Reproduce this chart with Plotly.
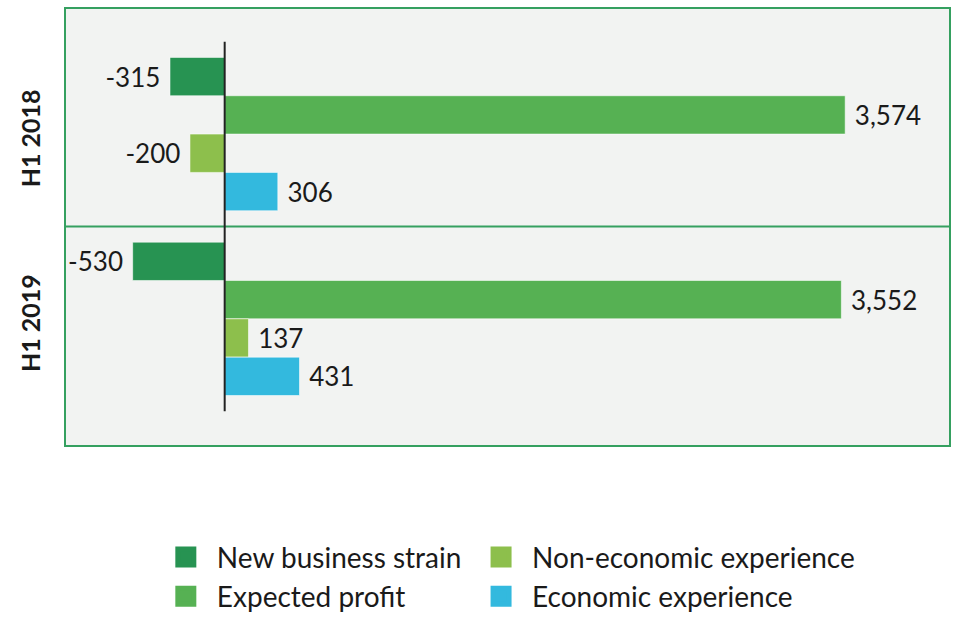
import plotly.graph_objects as go

categories = ["H1 2018", "H1 2019"]
series_names = ["New business strain", "Expected profit",
                "Non-economic experience", "Economic experience"]
new_business_strain = [-315, -530]
expected_profit = [3574, 3552]
non_economic_experience = [-200, 137]
economic_experience = [306, 431]

series_values = [new_business_strain, expected_profit,
                 non_economic_experience, economic_experience]
colors = ["#279352", "#56B153", "#8DBF4C", "#33B9DE"]

FONT = "Lato"
NBSP = "\u00a0"


def label(v):
    s = f"{v:,}"
    return s + NBSP if v < 0 else NBSP + s


fig = go.Figure()
for name, vals, col in zip(series_names, series_values, colors):
    fig.add_trace(go.Bar(
        y=categories, x=vals, orientation="h", name=name,
        marker=dict(color=col, line=dict(color="rgba(255,255,255,0.55)", width=1)),
        text=[label(v) for v in vals], textposition="outside",
        textfont=dict(family=FONT, size=26, color="#1a1a1a"),
        constraintext="none", cliponaxis=False, showlegend=False,
        hoverinfo="skip",
    ))

# legend entries (square swatches)
for i in [0, 1, 2, 3]:
    fig.add_trace(go.Scatter(
        x=[None], y=[None], mode="markers", name=series_names[i],
        marker=dict(symbol="square", size=16, color=colors[i],
                    line=dict(color=colors[i], width=5)),
        legend="legend" if i in (0, 1) else "legend2",
        showlegend=True,
    ))

border = "#35A060"
legend_common = dict(y=-0.2, xanchor="left", yanchor="top", orientation="v",
                     bgcolor="rgba(0,0,0,0)", tracegroupgap=0, itemwidth=52,
                     borderwidth=0,
                     font=dict(family=FONT, size=28, color="#1a1a1a"))
fig.update_layout(
    width=954, height=624,
    margin=dict(l=66, r=3, t=9, b=176),
    paper_bgcolor="white",
    plot_bgcolor="#F2F3F2",
    barmode="group",
    bargap=0.17,
    bargroupgap=0,
    font=dict(family=FONT, color="#1a1a1a"),
    xaxis=dict(range=[-914, 4172], showticklabels=False, showgrid=False,
               zeroline=False, ticks="", showline=True, mirror=True,
               linecolor=border, linewidth=2),
    yaxis=dict(type="category", range=[1.683, -0.677], showgrid=False,
               zeroline=False, ticks="", showline=True, mirror=True,
               linecolor=border, linewidth=2, tickangle=-90,
               ticklabelstandoff=14, ticklabelshift=-8,
               tickfont=dict(family=FONT, size=25, color="#1a1a1a", weight="bold")),
    legend=dict(x=0.1006, **legend_common),
    legend2=dict(x=0.4576, **legend_common),
    shapes=[
        dict(type="line", xref="paper", yref="y", x0=0, x1=1, y0=0.5, y1=0.5,
             line=dict(color=border, width=2), layer="above"),
        dict(type="line", xref="x", yref="y", x0=0, x1=0, y0=-0.5, y1=1.5,
             line=dict(color="#222222", width=2), layer="above"),
    ],
)

fig.write_html("out.html")
